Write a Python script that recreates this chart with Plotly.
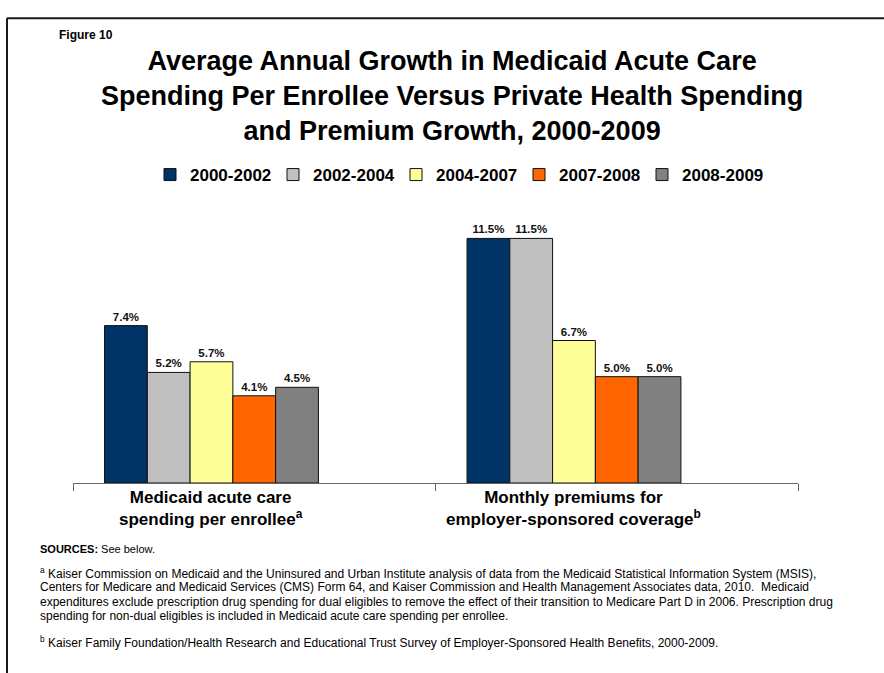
import plotly.graph_objects as go

# ---- data -------------------------------------------------------------
periods = ["2000-2002", "2002-2004", "2004-2007", "2007-2008", "2008-2009"]
categories = ["Medicaid acute care spending per enrollee",
              "Monthly premiums for employer-sponsored coverage"]
category_labels = ["Medicaid acute care<br>spending per enrollee<sup>a</sup>",
                   "Monthly premiums for<br>employer-sponsored coverage<sup>b</sup>"]
medicaid_growth = [7.4, 5.2, 5.7, 4.1, 4.5]     # % average annual growth
premium_growth = [11.5, 11.5, 6.7, 5.0, 5.0]    # % average annual growth

bar_colors = ["#003366", "#C0C0C0", "#FFFF99", "#FF6600", "#808080"]

# ---- geometry ---------------------------------------------------------
W, H = 884, 673
L, R, T, B = 73, 86, 200, 190
FONT = "Liberation Sans, Arial, sans-serif"


def px_x(px):
    return (px - L) / (W - L - R)


def px_y(py):
    return (H - B - py) / (H - T - B)


slot = 0.118          # bar width in category units
first_offset = -0.413  # left edge of the first bar relative to category centre

fig = go.Figure()
for i, period in enumerate(periods):
    fig.add_trace(go.Bar(
        x=categories,
        y=[medicaid_growth[i], premium_growth[i]],
        name=period,
        width=slot,
        offset=first_offset + i * slot,
        marker=dict(color=bar_colors[i], line=dict(color="#111111", width=1)),
        texttemplate="%{y:.1f}%",
        textposition="outside",
        constraintext="none",
        cliponaxis=False,
        textfont=dict(family=FONT, size=11.5, color="#111111", weight="bold"),
        hoverinfo="skip",
    ))

group_centre = first_offset + 2.5 * slot

annotations = [
    dict(text="Figure 10", x=px_x(57), y=px_y(27), xref="paper", yref="paper",
         xanchor="left", yanchor="middle", showarrow=False,
         font=dict(family=FONT, size=12, color="#000", weight="bold")),
    dict(text="Average Annual Growth in Medicaid Acute Care<br>"
              "Spending Per Enrollee Versus Private Health Spending<br>"
              "and Premium Growth, 2000-2009",
         x=px_x(452), y=px_y(89), xref="paper", yref="paper",
         xanchor="center", yanchor="middle", showarrow=False,
         font=dict(family=FONT, size=27, color="#000", weight="bold")),
    dict(text="<b>SOURCES:</b> See below.", x=px_x(38), y=px_y(550),
         xref="paper", yref="paper", xanchor="left", yanchor="middle",
         showarrow=False, font=dict(family=FONT, size=11, color="#000")),
]

for i, lab in enumerate(category_labels):
    annotations.append(dict(
        text=lab, x=i + group_centre, y=px_y(509), xref="x", yref="paper",
        xanchor="center", yanchor="middle", showarrow=False,
        font=dict(family=FONT, size=17, color="#000", weight="bold")))

footnotes = [
    (575, "<sup>a</sup> Kaiser Commission on Medicaid and the Uninsured and Urban Institute analysis of data from the Medicaid Statistical Information System (MSIS),"),
    (589, "Centers for Medicare and Medicaid Services (CMS) Form 64, and Kaiser Commission and Health Management Associates data, 2010.  Medicaid"),
    (604, "expenditures exclude prescription drug spending for dual eligibles to remove the effect of their transition to Medicare Part D in 2006. Prescription drug"),
    (618, "spending for non-dual eligibles is included in Medicaid acute care spending per enrollee."),
    (645, "<sup>b</sup> Kaiser Family Foundation/Health Research and Educational Trust Survey of Employer-Sponsored Health Benefits, 2000-2009."),
]
for ypx, txt in footnotes:
    annotations.append(dict(
        text=txt, x=px_x(38), y=px_y(ypx), xref="paper", yref="paper",
        xanchor="left", yanchor="middle", showarrow=False,
        font=dict(family=FONT, size=12, color="#000")))

shapes = [
    dict(type="line", xref="paper", yref="paper", x0=px_x(7), x1=px_x(890),
         y0=px_y(10), y1=px_y(10), line=dict(color="#1a1a1a", width=2)),
    dict(type="line", xref="paper", yref="paper", x0=px_x(7), x1=px_x(7),
         y0=px_y(10), y1=px_y(680), line=dict(color="#1a1a1a", width=2)),
]

fig.update_layout(
    width=W, height=H,
    margin=dict(l=L, r=R, t=T, b=B, pad=0),
    paper_bgcolor="white", plot_bgcolor="white",
    barmode="group",
    showlegend=True,
    legend=dict(orientation="h", xref="container", yref="container",
                x=150 / W, y=1 - 175 / H, xanchor="left", yanchor="middle",
                entrywidth=78, entrywidthmode="pixels",
                font=dict(family=FONT, size=17, color="#000", weight="bold"),
                bgcolor="rgba(0,0,0,0)"),
    xaxis=dict(type="category", showticklabels=False, tickson="boundaries",
               ticks="outside", ticklen=7, tickcolor="#666", showline=True,
               linecolor="#666", linewidth=1, showgrid=False, zeroline=False,
               range=[-0.5, 1.5], fixedrange=True),
    yaxis=dict(range=[0, 283 / 21.65], visible=False, showgrid=False,
               zeroline=False, fixedrange=True),
    annotations=annotations,
    shapes=shapes,
    font=dict(family=FONT),
)

fig.write_html("out.html")
